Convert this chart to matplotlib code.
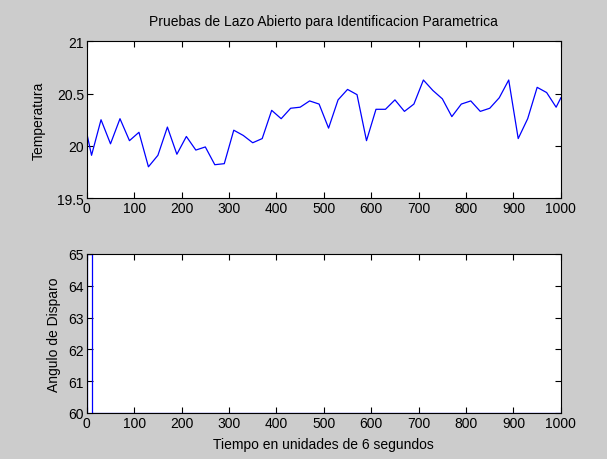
import numpy as np
import matplotlib
matplotlib.use("Agg")
import matplotlib.pyplot as plt

# muestras de temperatura (cada 20 unidades)
tiempo = [0, 10] + list(range(30, 1000, 20)) + [1000]
temperatura = [20.12, 19.91, 20.25, 20.02, 20.26, 20.05, 20.13, 19.80, 19.91, 20.18,
               19.92, 20.09, 19.96, 19.99, 19.82, 19.83, 20.15, 20.10, 20.03, 20.07,
               20.34, 20.26, 20.36, 20.37, 20.43, 20.40, 20.17, 20.44, 20.54, 20.49,
               20.05, 20.35, 20.35, 20.44, 20.33, 20.40, 20.63, 20.53, 20.45, 20.28,
               20.40, 20.43, 20.33, 20.36, 20.46, 20.63, 20.07, 20.26, 20.56, 20.51,
               20.37, 20.46]

# angulo de disparo
tiempo_ang = [0, 0, 11, 11, 1000]
angulo = [60, 65, 65, 60, 60]

plt.rcParams['font.family'] = ['Liberation Sans', 'DejaVu Sans']
plt.rcParams['font.size'] = 10

fig = plt.figure(figsize=(6.07, 4.60), dpi=100, facecolor='#cccccc')

ax1 = fig.add_axes([0.143, 0.567, 0.781, 0.341])
ax1.plot(tiempo, temperatura, color='#0000ff', lw=0.9)
ax1.set_xlim(0, 1000)
ax1.set_ylim(19.5, 21)
ax1.set_xticks(np.arange(0, 1001, 100))
ax1.set_yticks([19.5, 20, 20.5, 21])
ax1.set_yticklabels(['19.5', '20', '20.5', '21'])
ax1.set_ylabel('Temperatura', labelpad=8)
ax1.set_title('Pruebas de Lazo Abierto para Identificacion Parametrica', fontsize=10, pad=12)

ax2 = fig.add_axes([0.143, 0.1, 0.781, 0.346])
ax2.plot(tiempo_ang, angulo, color='#0000ff', lw=0.9)
ax2.set_xlim(0, 1000)
ax2.set_ylim(60, 65)
ax2.set_xticks(np.arange(0, 1001, 100))
ax2.set_yticks(np.arange(60, 66, 1))
ax2.set_ylabel('Angulo de Disparo', labelpad=5)
ax2.set_xlabel('Tiempo en unidades de 6 segundos', labelpad=5)

for ax in (ax1, ax2):
    ax.set_facecolor('white')
    ax.tick_params(direction='in', length=4, top=True, right=True, width=0.8,
                   labelsize=10, pad=2)
    for s in ax.spines.values():
        s.set_linewidth(0.8)

fig.savefig('out.png', dpi=100, facecolor=fig.get_facecolor())
